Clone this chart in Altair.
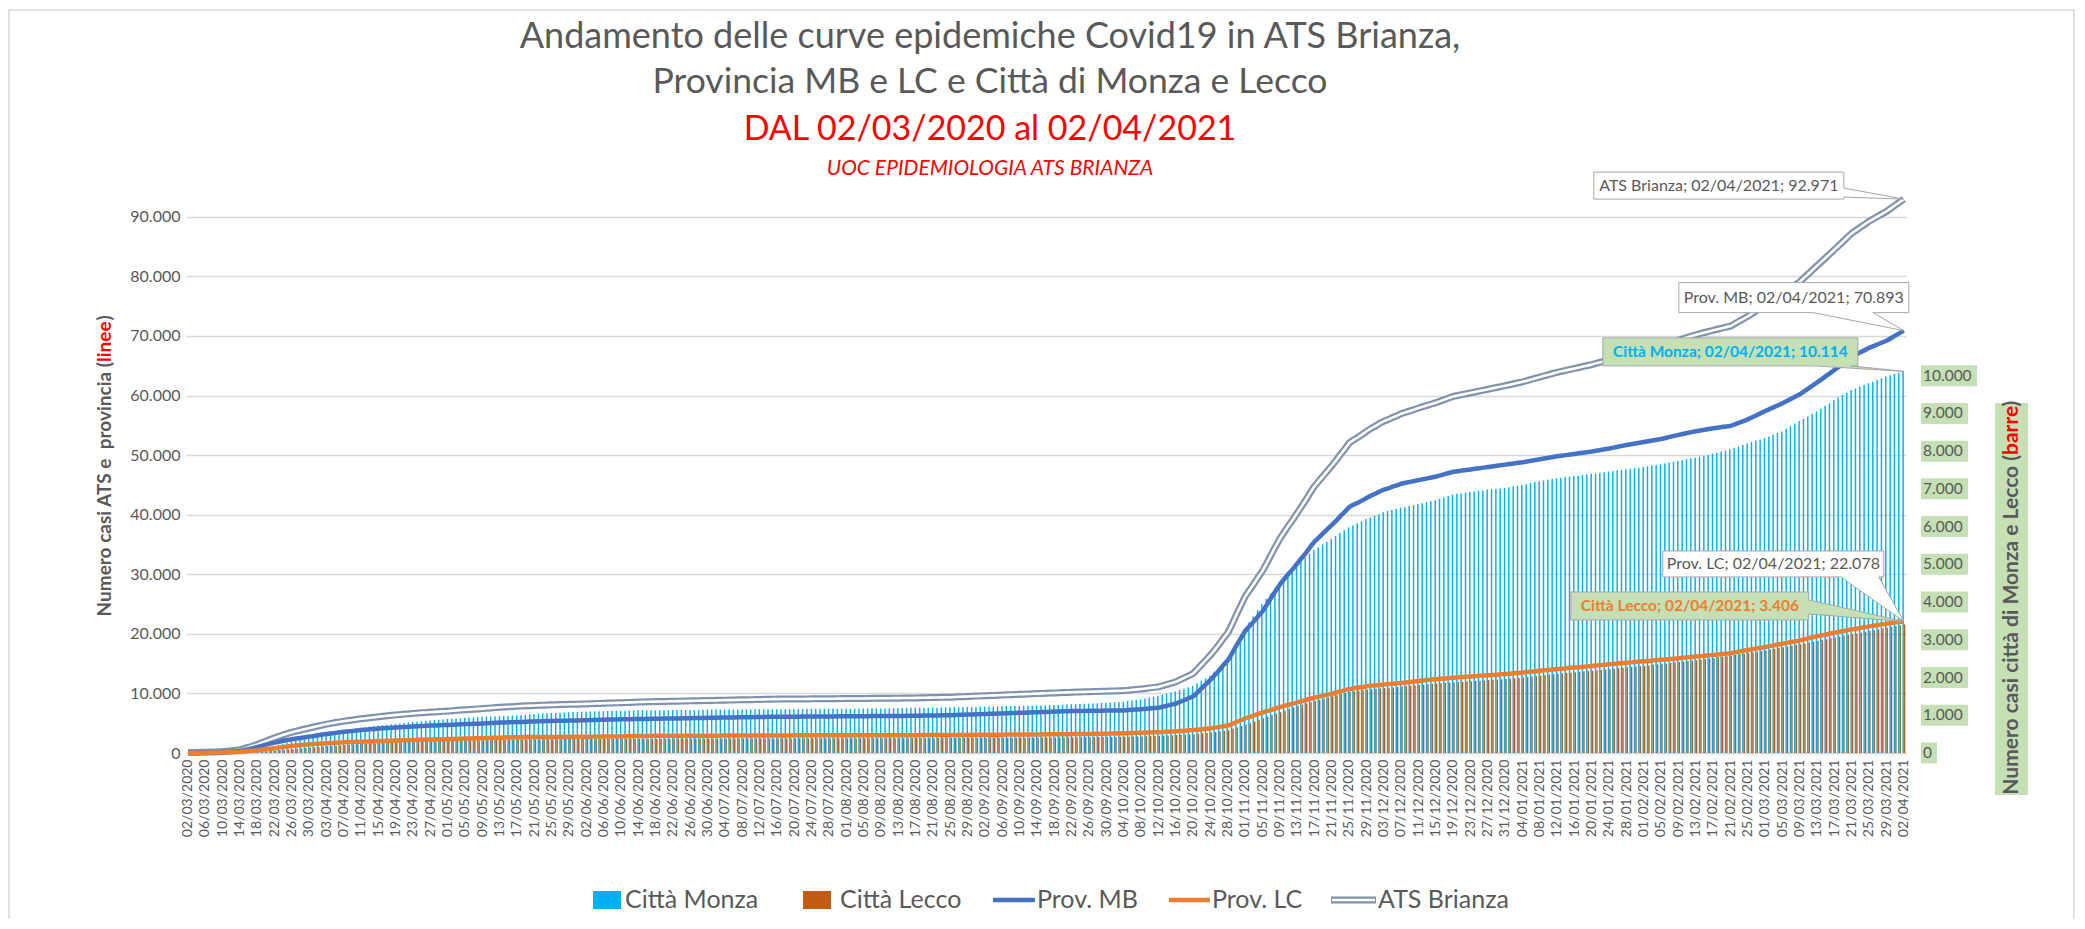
import altair as alt
import pandas as pd

FONT = "Lato"
GRAY = "#595959"
RED = "#FF0000"
GREEN = "#C5E0B4"
C_MONZA = "#00B0F0"
C_LECCO = "#C55A11"
C_MB = "#4472C4"
C_LC = "#ED7D31"
C_ATS = "#8093AE"
BOX_STROKE = "#A6A6A6"

# ---------------- data ----------------
date_labels = pd.date_range("2020-03-02", "2021-04-02", freq="D").strftime("%d/%m/%Y").tolist()
tick_labels = date_labels[::4]

prov_mb = [
    50, 55, 62, 70, 80, 95, 110, 130, 150, 190, 240, 290, 350, 500, 650, 820, 1000, 1200, 1400, 1580,
    1750, 1900, 2050, 2180, 2300, 2420, 2530, 2640, 2750, 2860, 2980, 3090, 3200, 3290, 3380, 3470, 3550, 3630, 3700, 3780,
    3850, 3910, 3980, 4040, 4100, 4150, 4200, 4250, 4300, 4340, 4380, 4410, 4450, 4490, 4530, 4560, 4600, 4620, 4650, 4680,
    4700, 4740, 4780, 4810, 4850, 4870, 4900, 4920, 4950, 4990, 5030, 5060, 5100, 5120, 5150, 5170, 5200, 5220, 5250, 5270,
    5300, 5320, 5340, 5360, 5380, 5400, 5420, 5430, 5450, 5460, 5470, 5490, 5500, 5520, 5550, 5570, 5600, 5610, 5620, 5640,
    5650, 5660, 5670, 5690, 5700, 5710, 5720, 5740, 5750, 5760, 5770, 5790, 5800, 5810, 5820, 5840, 5850, 5860, 5870, 5890,
    5900, 5910, 5920, 5940, 5950, 5960, 5970, 5990, 6000, 6010, 6020, 6040, 6050, 6060, 6070, 6090, 6100, 6100, 6100, 6100,
    6100, 6105, 6110, 6115, 6120, 6125, 6130, 6135, 6140, 6145, 6150, 6155, 6160, 6165, 6170, 6175, 6180, 6185, 6190, 6195,
    6200, 6205, 6210, 6215, 6220, 6228, 6235, 6242, 6250, 6262, 6275, 6288, 6300, 6312, 6325, 6338, 6350, 6375, 6400, 6425,
    6450, 6475, 6500, 6525, 6550, 6575, 6600, 6625, 6650, 6675, 6700, 6725, 6750, 6775, 6800, 6825, 6850, 6875, 6900, 6925,
    6950, 6970, 6990, 7010, 7030, 7042, 7055, 7068, 7080, 7090, 7100, 7110, 7120, 7128, 7135, 7142, 7150, 7200, 7250, 7300,
    7350, 7410, 7480, 7540, 7600, 7770, 7950, 8120, 8300, 8600, 8900, 9200, 9500, 10200, 10900, 11600, 12300, 13100, 13900, 14800,
    15600, 16800, 18100, 19300, 20500, 21300, 22100, 23000, 23800, 24900, 26100, 27200, 28300, 29200, 30100, 30900, 31800, 32700, 33600, 34600,
    35500, 36200, 36900, 37600, 38300, 39000, 39800, 40500, 41300, 41700, 42000, 42400, 42800, 43200, 43500, 43900, 44200, 44400, 44700, 44900,
    45200, 45350, 45500, 45650, 45800, 45950, 46100, 46250, 46400, 46600, 46800, 47000, 47200, 47300, 47400, 47500, 47600, 47700, 47800, 47900,
    48000, 48100, 48200, 48300, 48400, 48500, 48600, 48700, 48800, 48920, 49050, 49170, 49300, 49420, 49550, 49670, 49800, 49900, 50000, 50100,
    50200, 50300, 50400, 50500, 50600, 50720, 50850, 50970, 51100, 51250, 51400, 51550, 51700, 51820, 51950, 52070, 52200, 52320, 52450, 52570,
    52700, 52870, 53050, 53220, 53400, 53550, 53700, 53850, 54000, 54120, 54250, 54370, 54500, 54600, 54700, 54800, 54900, 55170, 55450, 55720,
    56000, 56350, 56700, 57050, 57400, 57720, 58050, 58370, 58700, 59070, 59450, 59820, 60200, 60700, 61200, 61700, 62200, 62720, 63250, 63770,
    64300, 64850, 65400, 65950, 66500, 66870, 67250, 67620, 68000, 68300, 68600, 68900, 69200, 69620, 70050, 70470, 70893,
]

prov_lc = [
    20, 25, 32, 40, 50, 60, 72, 85, 100, 120, 145, 170, 200, 260, 320, 380, 450, 540, 630, 710,
    800, 900, 1000, 1100, 1200, 1260, 1330, 1390, 1450, 1500, 1550, 1600, 1650, 1690, 1730, 1760, 1800, 1830, 1850, 1880,
    1900, 1920, 1950, 1970, 2000, 2020, 2050, 2070, 2100, 2120, 2150, 2170, 2200, 2220, 2240, 2250, 2270, 2280, 2300, 2310,
    2330, 2350, 2380, 2400, 2420, 2440, 2460, 2480, 2500, 2520, 2540, 2560, 2580, 2600, 2620, 2630, 2650, 2660, 2670, 2675,
    2680, 2685, 2690, 2695, 2700, 2705, 2710, 2715, 2720, 2725, 2730, 2735, 2740, 2745, 2750, 2755, 2760, 2765, 2770, 2775,
    2780, 2800, 2820, 2840, 2860, 2865, 2870, 2875, 2880, 2882, 2885, 2888, 2890, 2892, 2895, 2898, 2900, 2902, 2905, 2908,
    2910, 2912, 2915, 2918, 2920, 2922, 2925, 2928, 2930, 2932, 2935, 2938, 2940, 2942, 2945, 2948, 2950, 2952, 2955, 2958,
    2960, 2962, 2965, 2968, 2970, 2970, 2970, 2970, 2970, 2972, 2975, 2978, 2980, 2980, 2980, 2980, 2980, 2982, 2985, 2988,
    2990, 2990, 2990, 2990, 2990, 2992, 2995, 2998, 3000, 3002, 3005, 3008, 3010, 3012, 3015, 3018, 3020, 3025, 3030, 3035,
    3040, 3045, 3050, 3055, 3060, 3065, 3070, 3075, 3080, 3085, 3090, 3095, 3100, 3105, 3110, 3115, 3120, 3125, 3130, 3135,
    3140, 3148, 3155, 3162, 3170, 3178, 3185, 3192, 3200, 3212, 3225, 3238, 3250, 3268, 3285, 3302, 3320, 3340, 3360, 3380,
    3400, 3425, 3450, 3475, 3500, 3540, 3580, 3610, 3650, 3700, 3750, 3800, 3850, 3920, 4000, 4070, 4150, 4260, 4380, 4490,
    4600, 4900, 5200, 5500, 5800, 6050, 6300, 6550, 6800, 7020, 7250, 7470, 7700, 7900, 8100, 8300, 8500, 8700, 8900, 9100,
    9300, 9460, 9620, 9790, 9950, 10150, 10350, 10550, 10750, 10860, 10980, 11090, 11200, 11280, 11350, 11430, 11500, 11560, 11620, 11690,
    11750, 11840, 11920, 12010, 12100, 12180, 12250, 12330, 12400, 12460, 12520, 12590, 12650, 12700, 12750, 12800, 12850, 12900, 12950, 13000,
    13050, 13100, 13150, 13200, 13250, 13310, 13380, 13440, 13500, 13580, 13650, 13730, 13800, 13880, 13950, 14030, 14100, 14160, 14220, 14290,
    14350, 14410, 14480, 14540, 14600, 14680, 14750, 14830, 14900, 14960, 15030, 15090, 15150, 15210, 15280, 15340, 15400, 15460, 15530, 15590,
    15650, 15710, 15780, 15840, 15900, 15980, 16050, 16130, 16200, 16260, 16330, 16390, 16450, 16520, 16600, 16680, 16750, 16890, 17020, 17160,
    17300, 17420, 17550, 17680, 17800, 17940, 18080, 18210, 18350, 18490, 18620, 18760, 18900, 19080, 19250, 19420, 19600, 19750, 19900, 20050,
    20200, 20340, 20480, 20610, 20750, 20870, 21000, 21120, 21250, 21360, 21480, 21590, 21700, 21800, 21890, 21980, 22078,
]

ats_brianza = [
    70, 80, 94, 110, 130, 155, 182, 215, 250, 310, 385, 460, 550, 760, 970, 1200, 1450, 1740, 2030, 2290,
    2550, 2800, 3050, 3280, 3500, 3680, 3860, 4030, 4200, 4360, 4530, 4690, 4850, 4980, 5110, 5230, 5350, 5460, 5550, 5660,
    5750, 5830, 5930, 6010, 6100, 6170, 6250, 6320, 6400, 6460, 6530, 6580, 6650, 6710, 6770, 6810, 6870, 6900, 6950, 6990,
    7030, 7090, 7160, 7210, 7270, 7310, 7360, 7400, 7450, 7510, 7570, 7620, 7680, 7720, 7770, 7800, 7850, 7880, 7920, 7945,
    7980, 8005, 8030, 8055, 8080, 8105, 8130, 8145, 8170, 8185, 8200, 8225, 8240, 8265, 8300, 8325, 8360, 8375, 8390, 8415,
    8430, 8460, 8490, 8530, 8560, 8575, 8590, 8615, 8630, 8642, 8655, 8678, 8690, 8702, 8715, 8738, 8750, 8762, 8775, 8798,
    8810, 8822, 8835, 8858, 8870, 8882, 8895, 8918, 8930, 8942, 8955, 8978, 8990, 9002, 9015, 9038, 9050, 9052, 9055, 9058,
    9060, 9067, 9075, 9083, 9090, 9095, 9100, 9105, 9110, 9117, 9125, 9133, 9140, 9145, 9150, 9155, 9160, 9167, 9175, 9183,
    9190, 9195, 9200, 9205, 9210, 9220, 9230, 9240, 9250, 9264, 9280, 9296, 9310, 9324, 9340, 9356, 9370, 9400, 9430, 9460,
    9490, 9520, 9550, 9580, 9610, 9640, 9670, 9700, 9730, 9760, 9790, 9820, 9850, 9880, 9910, 9940, 9970, 10000, 10030, 10060,
    10090, 10118, 10145, 10172, 10200, 10220, 10240, 10260, 10280, 10302, 10325, 10348, 10370, 10396, 10420, 10444, 10470, 10540, 10610, 10680,
    10750, 10835, 10930, 11015, 11100, 11310, 11530, 11730, 11950, 12300, 12650, 13000, 13350, 14120, 14900, 15670, 16450, 17360, 18280, 19290,
    20200, 21700, 23300, 24800, 26300, 27350, 28400, 29550, 30600, 31920, 33350, 34670, 36000, 37100, 38200, 39200, 40300, 41400, 42500, 43700,
    44800, 45660, 46520, 47390, 48250, 49150, 50150, 51050, 52050, 52560, 52980, 53490, 54000, 54480, 54850, 55330, 55700, 55960, 56320, 56590,
    56950, 57190, 57420, 57660, 57900, 58130, 58350, 58580, 58800, 59060, 59320, 59590, 59850, 60000, 60150, 60300, 60450, 60600, 60750, 60900,
    61050, 61200, 61350, 61500, 61650, 61810, 61980, 62140, 62300, 62500, 62700, 62900, 63100, 63300, 63500, 63700, 63900, 64060, 64220, 64390,
    64550, 64710, 64880, 65040, 65200, 65400, 65600, 65800, 66000, 66210, 66430, 66640, 66850, 67030, 67230, 67410, 67600, 67780, 67980, 68160,
    68350, 68580, 68830, 69060, 69300, 69530, 69750, 69980, 70200, 70380, 70580, 70760, 70950, 71120, 71300, 71480, 71650, 72060, 72470, 72880,
    73300, 73770, 74250, 74730, 75200, 75660, 76130, 76580, 77050, 77560, 78070, 78580, 79100, 79780, 80450, 81120, 81800, 82470, 83150, 83820,
    84500, 85190, 85880, 86560, 87250, 87740, 88250, 88740, 89250, 89660, 90080, 90490, 90900, 91420, 91940, 92450, 92971,
]

citta_monza = [
    0, 1, 2, 3, 5, 6, 7, 8, 10, 15, 20, 25, 30, 42, 55, 67, 80, 105, 130, 155,
    180, 210, 240, 270, 300, 325, 350, 375, 400, 425, 450, 475, 500, 525, 550, 575, 600, 618, 635, 652,
    670, 685, 700, 715, 730, 740, 750, 760, 770, 782, 795, 808, 820, 830, 840, 850, 860, 870, 880, 890,
    900, 908, 915, 922, 930, 938, 945, 952, 960, 965, 970, 975, 980, 985, 990, 995, 1000, 1008, 1015, 1022,
    1030, 1038, 1045, 1052, 1060, 1065, 1070, 1075, 1080, 1085, 1090, 1095, 1100, 1102, 1105, 1108, 1110, 1112, 1115, 1118,
    1120, 1122, 1125, 1128, 1130, 1130, 1130, 1130, 1130, 1132, 1135, 1138, 1140, 1140, 1140, 1140, 1140, 1142, 1145, 1148,
    1150, 1150, 1150, 1150, 1150, 1150, 1150, 1150, 1150, 1152, 1155, 1158, 1160, 1160, 1160, 1160, 1160, 1160, 1160, 1160,
    1160, 1162, 1165, 1168, 1170, 1170, 1170, 1170, 1170, 1170, 1170, 1170, 1170, 1172, 1175, 1178, 1180, 1180, 1180, 1180,
    1180, 1182, 1185, 1188, 1190, 1192, 1195, 1198, 1200, 1200, 1200, 1200, 1200, 1202, 1205, 1208, 1210, 1212, 1215, 1218,
    1220, 1222, 1225, 1228, 1230, 1232, 1235, 1238, 1240, 1242, 1245, 1248, 1250, 1252, 1255, 1258, 1260, 1262, 1265, 1268,
    1270, 1275, 1280, 1285, 1290, 1295, 1300, 1305, 1310, 1315, 1320, 1325, 1330, 1338, 1345, 1352, 1360, 1375, 1390, 1405,
    1420, 1445, 1470, 1495, 1520, 1548, 1575, 1602, 1630, 1668, 1705, 1742, 1780, 1848, 1915, 1982, 2050, 2155, 2260, 2365,
    2470, 2680, 2880, 3090, 3300, 3460, 3620, 3790, 3950, 4090, 4220, 4360, 4500, 4620, 4740, 4860, 4980, 5080, 5180, 5280,
    5380, 5450, 5530, 5600, 5680, 5750, 5830, 5900, 5980, 6030, 6090, 6140, 6200, 6240, 6290, 6330, 6380, 6410, 6440, 6470,
    6500, 6520, 6550, 6570, 6600, 6620, 6650, 6670, 6700, 6740, 6770, 6810, 6850, 6870, 6880, 6900, 6920, 6930, 6950, 6960,
    6980, 6990, 7000, 7010, 7020, 7040, 7060, 7080, 7100, 7120, 7150, 7180, 7200, 7220, 7240, 7260, 7280, 7290, 7310, 7320,
    7340, 7350, 7370, 7380, 7400, 7410, 7430, 7440, 7460, 7470, 7490, 7500, 7520, 7530, 7550, 7560, 7580, 7600, 7620, 7630,
    7650, 7670, 7700, 7720, 7740, 7760, 7790, 7810, 7830, 7850, 7880, 7900, 7930, 7960, 7990, 8020, 8050, 8090, 8120, 8160,
    8200, 8240, 8280, 8310, 8350, 8390, 8440, 8480, 8520, 8590, 8660, 8730, 8800, 8860, 8920, 8990, 9050, 9120, 9200, 9270,
    9350, 9420, 9480, 9550, 9620, 9660, 9710, 9750, 9800, 9840, 9890, 9930, 9980, 10010, 10050, 10080, 10114,
]

citta_lecco = [
    0, 0, 0, 0, 0, 1, 2, 3, 5, 6, 7, 8, 10, 15, 20, 25, 30, 38, 45, 52,
    60, 70, 80, 90, 100, 110, 120, 130, 140, 150, 160, 170, 180, 188, 195, 202, 210, 218, 225, 232,
    240, 245, 250, 255, 260, 265, 270, 275, 280, 285, 290, 295, 300, 302, 305, 308, 310, 312, 315, 318,
    320, 322, 325, 328, 330, 332, 335, 338, 340, 342, 345, 348, 350, 351, 352, 353, 355, 356, 357, 358,
    360, 361, 362, 363, 365, 366, 367, 368, 370, 370, 371, 371, 372, 372, 373, 373, 374, 374, 375, 375,
    376, 376, 377, 377, 378, 378, 379, 379, 380, 380, 380, 380, 381, 381, 381, 381, 382, 382, 382, 382,
    383, 383, 383, 383, 384, 384, 384, 384, 385, 385, 385, 385, 386, 386, 386, 386, 387, 387, 387, 387,
    388, 388, 388, 388, 389, 389, 389, 389, 390, 390, 390, 390, 391, 391, 391, 391, 392, 392, 392, 392,
    393, 393, 393, 393, 394, 394, 394, 394, 395, 395, 396, 396, 397, 397, 398, 398, 399, 399, 400, 400,
    401, 401, 402, 402, 403, 403, 404, 404, 405, 405, 406, 406, 407, 407, 407, 407, 408, 408, 409, 409,
    410, 411, 412, 414, 415, 416, 417, 419, 420, 421, 422, 424, 425, 426, 427, 429, 430, 432, 435, 438,
    440, 444, 448, 452, 455, 460, 465, 470, 475, 481, 488, 494, 500, 510, 520, 530, 540, 555, 570, 585,
    600, 640, 680, 715, 750, 792, 835, 878, 920, 960, 1000, 1040, 1080, 1122, 1165, 1208, 1250, 1282, 1315, 1348,
    1380, 1410, 1440, 1470, 1500, 1530, 1560, 1590, 1620, 1635, 1650, 1665, 1680, 1690, 1700, 1710, 1720, 1730, 1740, 1750,
    1760, 1770, 1780, 1790, 1800, 1810, 1820, 1830, 1840, 1848, 1855, 1862, 1870, 1878, 1885, 1892, 1900, 1908, 1915, 1922,
    1930, 1938, 1945, 1952, 1960, 1970, 1980, 1990, 2000, 2012, 2025, 2038, 2050, 2062, 2075, 2088, 2100, 2110, 2120, 2130,
    2140, 2150, 2160, 2170, 2180, 2190, 2200, 2210, 2220, 2232, 2245, 2258, 2270, 2280, 2290, 2300, 2310, 2322, 2335, 2348,
    2360, 2372, 2385, 2398, 2410, 2422, 2435, 2448, 2460, 2475, 2490, 2505, 2520, 2535, 2550, 2565, 2580, 2598, 2615, 2632,
    2650, 2668, 2685, 2702, 2720, 2740, 2760, 2780, 2800, 2820, 2840, 2860, 2880, 2902, 2925, 2948, 2970, 2992, 3015, 3038,
    3060, 3082, 3105, 3128, 3150, 3170, 3190, 3210, 3230, 3252, 3275, 3298, 3320, 3342, 3364, 3385, 3406,
]

left_ticks = [0, 10000, 20000, 30000, 40000, 50000, 60000, 70000, 80000, 90000]
right_ticks = [0, 1000, 2000, 3000, 4000, 5000, 6000, 7000, 8000, 9000, 10000]
right_tick_text = ["0", "1.000", "2.000", "3.000", "4.000", "5.000", "6.000", "7.000", "8.000", "9.000", "10.000"]

title_lines = [
    "Andamento delle curve epidemiche Covid19 in ATS Brianza,",
    "Provincia MB e LC e Città di Monza e Lecco",
    "DAL 02/03/2020 al 02/04/2021",
    "UOC EPIDEMIOLOGIA ATS BRIANZA",
]
legend_names = ["Città Monza", "Città Lecco", "Prov. MB", "Prov. LC", "ATS Brianza"]

# ---------------- tables ----------------
df = pd.DataFrame(dict(data=date_labels, mb=prov_mb, lc=prov_lc, ats=ats_brianza,
                       monza=citta_monza, lecco=citta_lecco))
last = df.tail(1).reset_index(drop=True)
one = pd.DataFrame({"k": [0]})
rt_df = pd.DataFrame({"v": right_ticks, "lbl": right_tick_text})

W, H = 1720, 566

x_scale = alt.Scale(domain=date_labels, paddingInner=0.33, paddingOuter=0.165)
x_axis = alt.Axis(values=tick_labels, labelAngle=270, labelFont=FONT, labelFontSize=14,
                  labelColor=GRAY, labelPadding=6, labelOverlap=False, ticks=False,
                  domain=True, domainColor="#D9D9D9", domainWidth=1.5, grid=False, title=None)


def xf(center=True):
    if center:
        return alt.X("data:N", sort=None, scale=x_scale, axis=x_axis, bandPosition=0.5)
    return alt.X("data:N", sort=None, scale=x_scale, axis=x_axis)


yl_scale = alt.Scale(domain=[0, 95000], nice=False)
yl_axis = alt.Axis(orient="left", values=left_ticks,
                   labelExpr="replace(format(datum.value, ','), ',', '.')",
                   labelFont=FONT, labelFontSize=16, labelColor=GRAY, labelPadding=6,
                   ticks=False, domain=False, grid=True, gridColor="#D9D9D9", gridWidth=1.3,
                   title=None)
yr_scale = alt.Scale(domain=[0, 15000], nice=False)


def yl(f, axis=True):
    return alt.Y(f"{f}:Q", scale=yl_scale, axis=yl_axis if axis else None)


def yr(f):
    return alt.Y(f"{f}:Q", scale=yr_scale, axis=None)


def fmt(f):
    return f"replace(format(datum.{f}, ','), ',', '.')"


# ---------------- bars (right axis) ----------------
bars = alt.Chart(df).transform_fold(["monza", "lecco"], as_=["serie", "valore"]).mark_bar().encode(
    x=xf(False),
    xOffset=alt.XOffset("serie:N", sort=["monza", "lecco"],
                        scale=alt.Scale(domain=["monza", "lecco"], paddingInner=0, paddingOuter=0)),
    y=yr("valore"),
    color=alt.Color("serie:N", scale=alt.Scale(domain=["monza", "lecco"], range=[C_MONZA, C_LECCO]),
                    legend=None),
)

r_box = alt.Chart(rt_df).transform_calculate(
    shp="'M-1,-10.5H' + (9*length(datum.lbl) - (indexof(datum.lbl, '.') >= 0 ? 5 : 0) + 6) + 'V10.5H-1Z'"
).mark_point(filled=True, size=4, opacity=1, fill=GREEN, strokeWidth=0).encode(
    x=alt.value(1736), y=yr("v"), shape=alt.Shape("shp:N", scale=None))

r_txt = alt.Chart(rt_df).mark_text(align="left", baseline="middle", font=FONT, fontSize=15.5,
                                   color=GRAY).encode(x=alt.value(1737), y=yr("v"), text="lbl:N")

bars_group = alt.layer(bars, r_box, r_txt)

# ---------------- lines (left axis) ----------------
ats_outer = alt.Chart(df).mark_line(color=C_ATS, strokeWidth=7).encode(x=xf(), y=yl("ats"))
ats_inner = alt.Chart(df).mark_line(color="white", strokeWidth=2.6).encode(x=xf(), y=yl("ats"))
mb_line = alt.Chart(df).mark_line(color=C_MB, strokeWidth=4.5).encode(x=xf(), y=yl("mb"))
lc_line = alt.Chart(df).mark_line(color=C_LC, strokeWidth=4.5).encode(x=xf(), y=yl("lc"))

lines_group = alt.layer(ats_outer, ats_inner, mb_line, lc_line)


# ---------------- data labels (callouts) ----------------
def callout(field, yfun, path, fill, dx, dy, name, color, weight, size):
    box = alt.Chart(last).mark_point(shape=path, size=4, filled=True, fill=fill, stroke=BOX_STROKE,
                                     strokeWidth=1, opacity=1).encode(x=xf(), y=yfun(field))
    txt = alt.Chart(last).transform_calculate(
        lab=f"'{name}; ' + datum.data + '; ' + {fmt(field)}"
    ).mark_text(dx=dx, dy=dy, align="center", baseline="middle", font=FONT, fontSize=size,
                fontWeight=weight, color=color).encode(x=xf(), y=yfun(field), text="lab:N")
    return [box, txt]


ann_right = alt.layer(
    *callout("monza", yr, "M-301,-33.5H-46V-5.5H-53L0,0L-90,-5.5H-301Z", GREEN, -173.5, -19.5,
             "Città Monza", C_MONZA, "bold", 15.5),
    *callout("lecco", yr, "M-333,-32.5H-95V-24.5L0,-3L-95,-10.5V-4.5H-333Z", GREEN, -214, -18.5,
             "Città Lecco", C_LC, "bold", 15.5),
)
ann_left = alt.layer(
    *callout("mb", lambda f: yl(f, False), "M-225,-48H5V-18H-31L0,0L-91,-18H-225Z", "white", -110, -33,
             "Prov. MB", GRAY, "normal", 16),
    *callout("lc", lambda f: yl(f, False), "M-241,-70.5H-20V-44.5H-25L0,0L-63,-44.5H-241Z", "white", -130.5,
             -57.5, "Prov. LC", GRAY, "normal", 16),
    *callout("ats", lambda f: yl(f, False), "M-310,-27H-60V-11L0,0L-60,-2V0H-310Z", "white", -185, -13.5,
             "ATS Brianza", GRAY, "normal", 16),
)


# ---------------- decorations ----------------
def txt(text, x, y, size, color=GRAY, align="center", weight="normal", style="normal", angle=0):
    return alt.Chart(one).mark_text(text=text, font=FONT, fontSize=size, color=color, align=align,
                                    baseline="middle", fontWeight=weight, fontStyle=style,
                                    angle=angle).encode(x=alt.value(x), y=alt.value(y))


def rect(x1, x2, y1, y2, fill, stroke=None):
    kw = dict(fill=fill)
    if stroke:
        kw = dict(fillOpacity=0, stroke=stroke, strokeWidth=1.5)
    return alt.Chart(one).mark_rect(**kw).encode(x=alt.value(x1), x2=alt.value(x2),
                                                 y=alt.value(y1), y2=alt.value(y2))


def hrule(x1, x2, y, color, w):
    return alt.Chart(one).mark_rule(color=color, strokeWidth=w).encode(
        x=alt.value(x1), x2=alt.value(x2), y=alt.value(y))


deco = [
    rect(-177, 1888, -177, 733, None, stroke="#D9D9D9"),
    txt(title_lines[0], 804, -150, 36),
    txt(title_lines[1], 804, -105, 35.5),
    txt(title_lines[2], 804, -57, 34, color=RED),
    txt(title_lines[3], 804, -18, 21, color=RED, style="italic"),
    # left axis title: "(" ends at y=175, "linee" starts there going up
    txt("Numero casi ATS e\u00a0 provincia (", -81, 175, 19, align="right", weight="bold", angle=270),
    txt("linee", -81, 175, 19, color=RED, align="left", weight="bold", angle=270),
    txt(")", -81, 133.5, 19, align="left", weight="bold", angle=270),
    # right axis title
    rect(1809, 1842, 216, 608, GREEN),
    txt("Numero casi città di Monza e Lecco (", 1826, 268, 21, align="right", weight="bold", angle=270),
    txt("barre", 1826, 268, 21, color=RED, align="left", weight="bold", angle=270),
    txt(")", 1826, 219.5, 21, align="left", weight="bold", angle=270),
    # legend
    rect(407, 435, 704, 722, C_MONZA),
    txt(legend_names[0], 439, 713, 25, align="left"),
    rect(617, 645, 704, 722, C_LECCO),
    txt(legend_names[1], 654, 713, 25, align="left"),
    hrule(807, 849, 713, C_MB, 4.5),
    txt(legend_names[2], 851, 713, 25, align="left"),
    hrule(983, 1024, 713, C_LC, 4.5),
    txt(legend_names[3], 1026, 713, 25, align="left"),
    hrule(1145, 1190, 713, C_ATS, 7),
    hrule(1146, 1189, 713, "white", 2.6),
    txt(legend_names[4], 1192, 713, 25, align="left"),
]

chart = alt.layer(bars_group, lines_group, ann_right, ann_left, *deco).resolve_scale(
    y="independent"
).properties(
    width=W, height=H,
    padding={"left": 178, "top": 179, "right": 171, "bottom": 166},
    autosize=alt.AutoSizeParams(type="none"),
    background="white",
).configure_view(stroke=None)

chart.save("out.html", embed_options={"renderer": "svg", "actions": False})
